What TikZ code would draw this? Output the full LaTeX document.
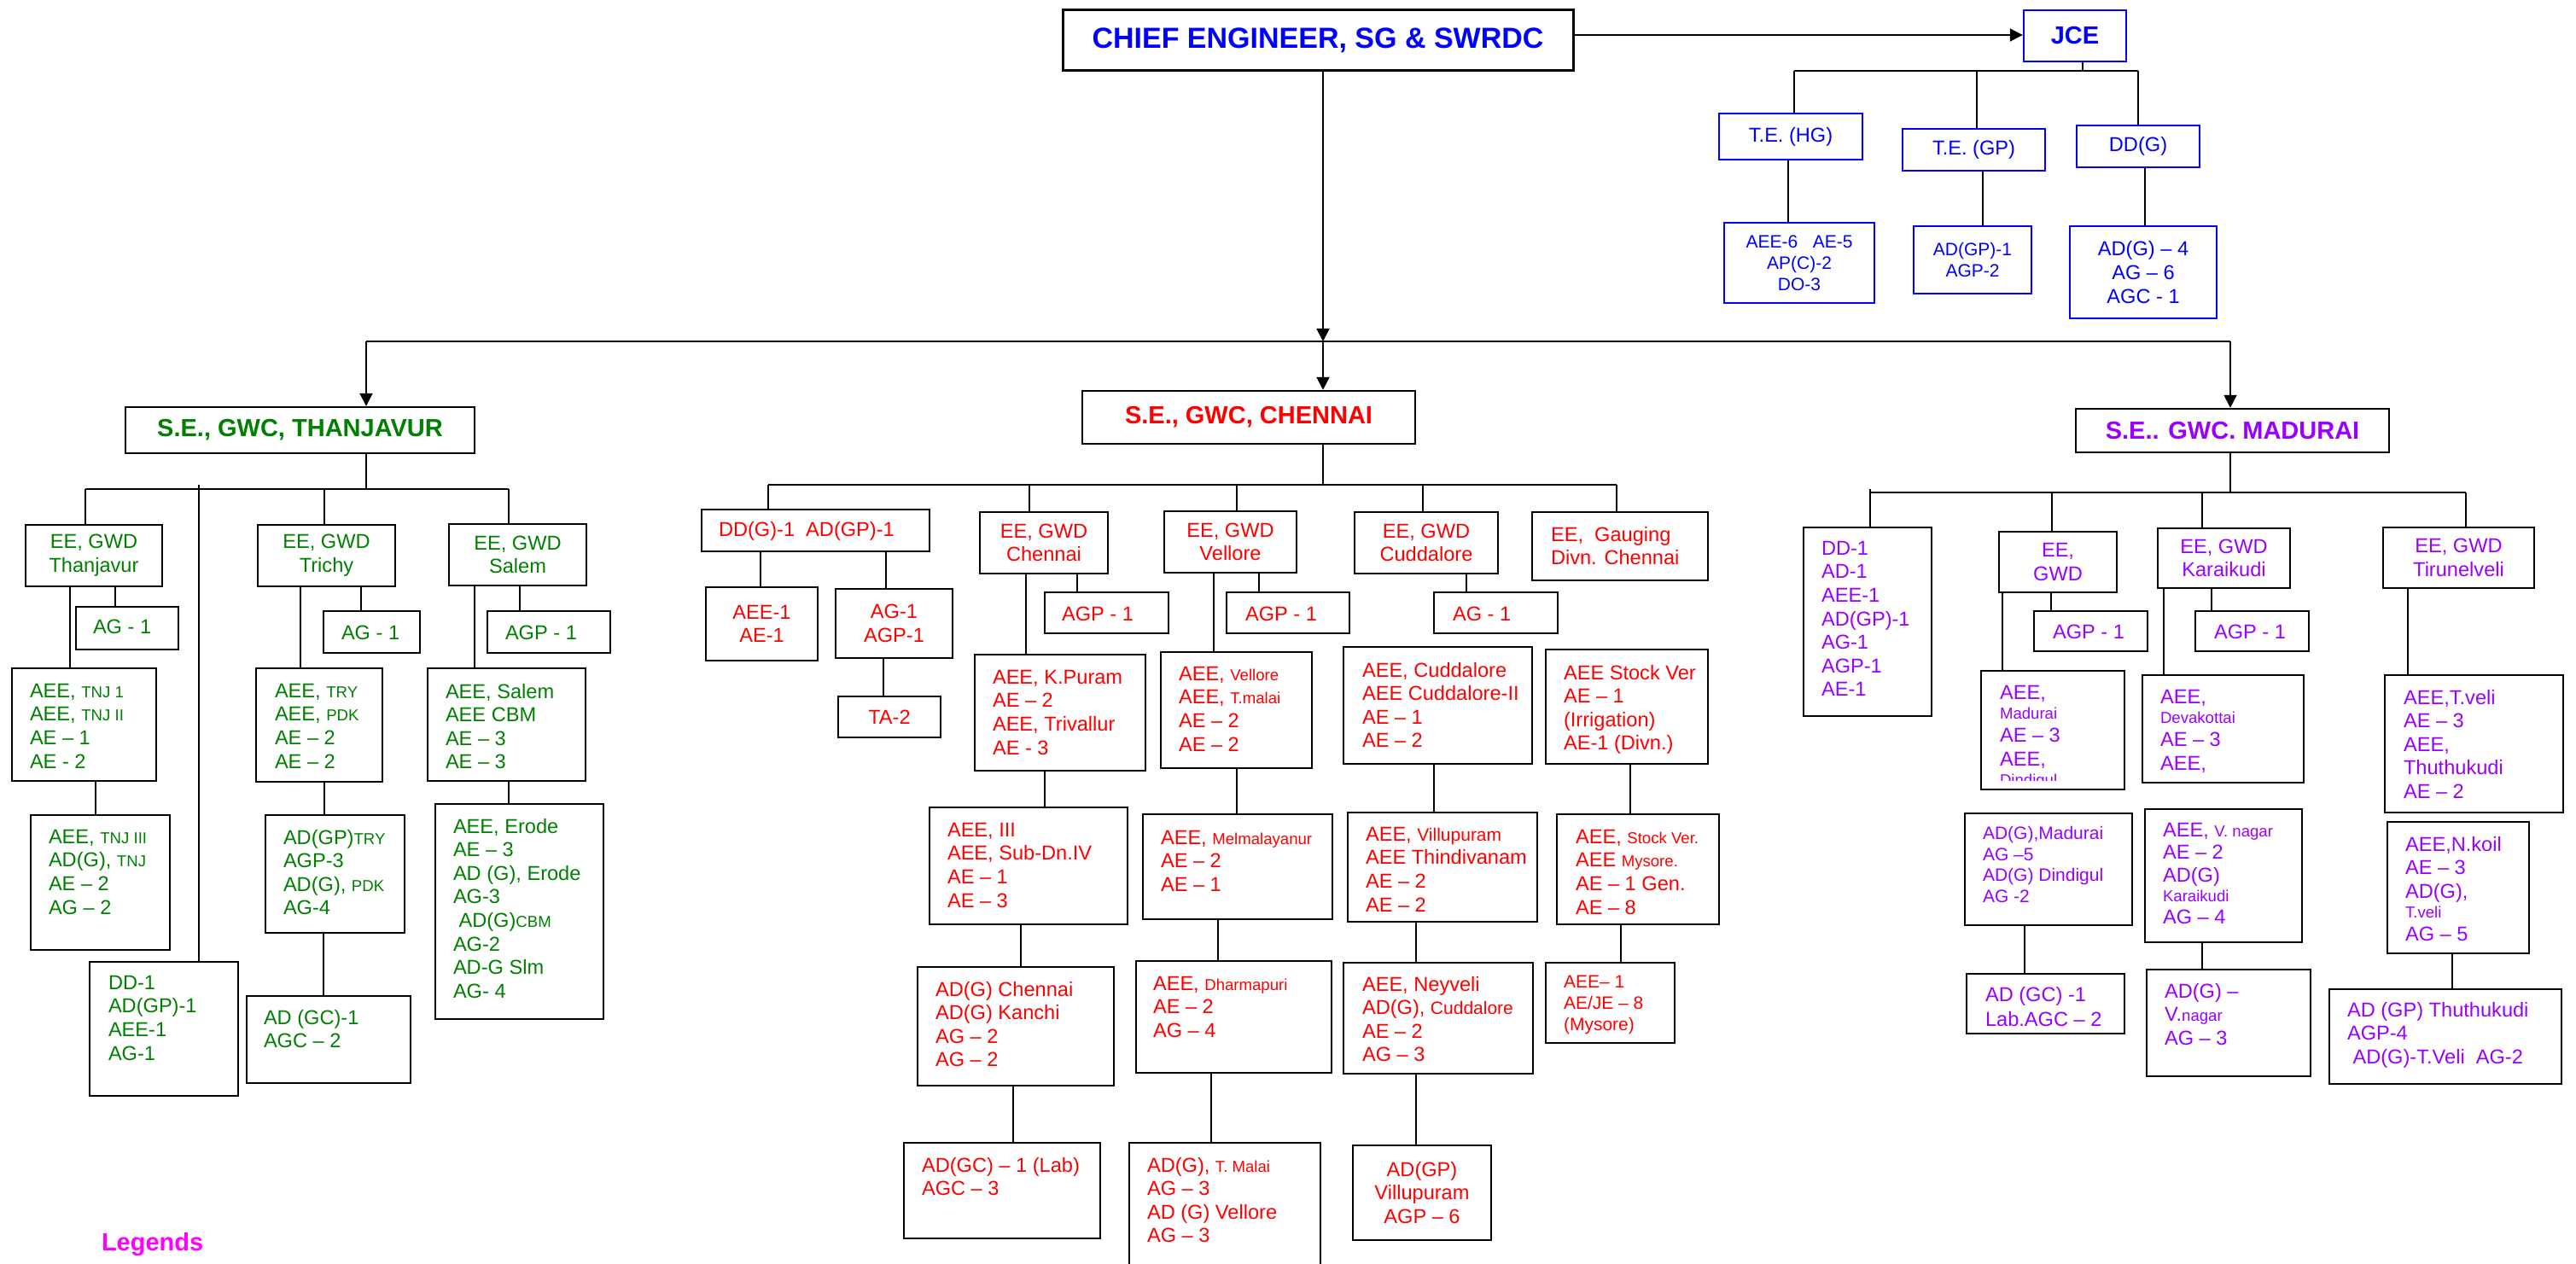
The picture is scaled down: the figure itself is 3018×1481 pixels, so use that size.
\documentclass[tikz,border=0pt]{standalone}
\usepackage{fontspec}
\setmainfont{Liberation Sans}
\usetikzlibrary{fit,arrows.meta}
\definecolor{cblue}{RGB}{0,0,255}
\definecolor{cgreen}{RGB}{0,128,0}
\definecolor{cred}{RGB}{255,0,0}
\definecolor{cpurp}{RGB}{153,0,255}
\definecolor{cmag}{RGB}{255,0,255}
\newcommand\nf{\fontsize{11.8}{13.8}\selectfont}
\newcommand\smf{\fontsize{9.3}{11}\selectfont}
\newcommand\mdf{\fontsize{10.5}{12.4}\selectfont}
\newcommand\hdf{\bfseries\fontsize{14.5}{17}\selectfont}
\tikzset{
 bx/.style={draw=black, line width=1.2pt, inner sep=0pt},
 bbx/.style={bx, draw=cblue},
 ln/.style={draw=black, line width=1pt},
 arr/.style={ln, -{Triangle[length=7.5pt,width=7.5pt]}},
 tx/.style={inner sep=0pt, outer sep=0pt, align=left, anchor=north west, font=\nf},
 ctx/.style={inner sep=0pt, outer sep=0pt, align=center, anchor=center, font=\nf},
 gtx/.style={tx, text=cgreen},
 rtx/.style={tx, text=cred},
 ptx/.style={tx, text=cpurp},
}
\begin{document}
\begin{tikzpicture}[x=0.5pt,y=-0.5pt]
\fill[white] (0,0) rectangle (3018,1481);
\useasboundingbox (0,0) rectangle (3018,1481);
\clip (0,0) rectangle (3018,1481);

% ---------------- top ----------------
\node[bx, line width=1.5pt, fit={(1245,12)(1843,83)}] (ce) {};
\node[ctx, text=cblue, font=\bfseries\fontsize{17}{20}\selectfont] (cet) at (ce.center) {CHIEF ENGINEER, SG \& SWRDC};
\node[bbx, fit={(2371,12)(2491,72)}] (jce) {};
\node[ctx, text=cblue, font=\hdf] (jcet) at (jce.center) {JCE};
\draw[arr] (ce.east |- 0,41) -- (jce.west |- 0,41);
\node[bbx, fit={(2014,133)(2182,187)}] (tehg) {};
\node[ctx, text=cblue] (tehgt) at (tehg.center) {T.E. (HG)};
\node[bbx, fit={(2229,151)(2396,200)}] (tegp) {};
\node[ctx, text=cblue] (tegpt) at (tegp.center) {T.E. (GP)};
\node[bbx, fit={(2433,147)(2577,196)}] (ddg) {};
\node[ctx, text=cblue] (ddgt) at (ddg.center) {DD(G)};
\node[bbx, fit={(2020,261)(2196,355)}] (aee6) {};
\node[ctx, text=cblue, font=\mdf] (aee6t) at (aee6.center) {AEE-6\ \ \ AE-5\\AP(C)-2\\DO-3};
\node[bbx, fit={(2242,265)(2380,344)}] (adgp1) {};
\node[ctx, text=cblue, font=\mdf] (adgp1t) at (adgp1.center) {AD(GP)-1\\AGP-2};
\node[bbx, fit={(2425,265)(2597,373)}] (adg4) {};
\node[ctx, text=cblue] (adg4t) at (adg4.center) {AD(G) – 4\\AG – 6\\AGC - 1};
\coordinate (jb) at (2440,83);
\draw[ln] (2440,0 |- jce.south) -- (jb);
\draw[ln] (2102,83) -- (2505,83);
\draw[ln] (2102,83) -- (2102,0 |- tehg.north);
\draw[ln] (2316,83) -- (2316,0 |- tegp.north);
\draw[ln] (2505,83) -- (2505,0 |- ddg.north);
\draw[ln] (2095,0 |- tehg.south) -- (2095,0 |- aee6.north);
\draw[ln] (2323,0 |- tegp.south) -- (2323,0 |- adgp1.north);
\draw[ln] (2513,0 |- ddg.south) -- (2513,0 |- adg4.north);

% ---------------- SE level ----------------
\node[bx, fit={(147,477)(556,531)}] (se1) {};
\node[ctx, text=cgreen, font=\hdf] (se1t) at (se1.center) {S.E., GWC, THANJAVUR};
\node[bx, fit={(1268,458)(1658,520)}] (se2) {};
\node[ctx, text=cred, font=\hdf] (se2t) at (se2.center) {S.E., GWC, CHENNAI};
\node[bx, fit={(2432,479)(2799,530)}] (se3) {};
\node[ctx, text=cpurp, font=\hdf] (se3t) at (se3.center) {S.E.. GWC. MADURAI};
\coordinate (b0) at (1550,400);
\draw[arr] (1550,0 |- ce.south) -- (b0);
\draw[ln] (429,400) -- (2613,400);
\draw[arr] (429,400) -- (429,0 |- se1.north);
\draw[arr] (b0) -- (1550,0 |- se2.north);
\draw[arr] (2613,400) -- (2613,0 |- se3.north);

% ---------------- Thanjavur ----------------
\node[bx, fit={(30,615)(190,687)}] (ee1) {};
\node[ctx, text=cgreen] (ee1t) at (ee1.center) {EE, GWD\\Thanjavur};
\node[bx, fit={(302,615)(463,687)}] (ee2) {};
\node[ctx, text=cgreen] (ee2t) at (ee2.center) {EE, GWD\\Trichy};
\node[bx, fit={(526,614)(687,686)}] (ee3) {};
\node[ctx, text=cgreen] (ee3t) at (ee3.center) {EE, GWD\\Salem};
\node[bx, fit={(89,711)(209,761)}] (ag1) {};
\node[gtx, anchor=west] (ag1t) at (109,734) {AG - 1};
\node[bx, fit={(379,716)(492,765)}] (ag2) {};
\node[gtx, anchor=west] (ag2t) at (400,741) {AG - 1};
\node[bx, fit={(571,716)(715,765)}] (agp3) {};
\node[gtx, anchor=west] (agp3t) at (592,741) {AGP - 1};
\node[bx, fit={(14,783)(183,915)}] (aee1) {};
\node[gtx] (aee1t) at (35,801) {AEE, {\smf TNJ 1}\\AEE, {\smf TNJ II}\\AE – 1\\AE - 2};
\node[bx, fit={(300,783)(448,916)}] (aee2) {};
\node[gtx] (aee2t) at (322,801) {AEE, {\smf TRY}\\AEE, {\smf PDK}\\AE – 2\\AE – 2};
\node[bx, fit={(501,783)(686,915)}] (aee3) {};
\node[gtx] (aee3t) at (522,801) {AEE, Salem\\AEE CBM\\AE – 3\\AE – 3};
\node[bx, fit={(36,955)(199,1113)}] (tnj3) {};
\node[gtx] (tnj3t) at (57,972) {AEE, {\smf TNJ III}\\AD(G), {\smf TNJ}\\AE – 2\\AG – 2};
\node[bx, fit={(311,955)(474,1093)}] (adgptry) {};
\node[gtx] (adgptryt) at (332,972) {AD(GP){\smf TRY}\\AGP-3\\AD(G), {\smf PDK}\\AG-4};
\node[bx, fit={(289,1167)(481,1269)}] (adgc1) {};
\node[gtx] (adgc1t) at (309,1183) {AD (GC)-1\\AGC – 2};
\node[bx, fit={(510,942)(707,1194)}] (erode) {};
\node[gtx] (erodet) at (531,959) {AEE, Erode\\AE – 3\\AD (G), Erode\\AG-3\\\ AD(G){\smf CBM}\\AG-2\\AD-G Slm\\AG- 4};
\node[bx, fit={(105,1127)(279,1284)}] (dd1) {};
\node[gtx] (dd1t) at (127,1143) {DD-1\\AD(GP)-1\\AEE-1\\AG-1};
\coordinate (tb) at (429,573);
\draw[ln] (429,0 |- se1.south) -- (tb);
\draw[ln] (100,573) -- (596,573);
\draw[ln] (233,568) -- (233,0 |- dd1.north);
\draw[ln] (100,573) -- (100,0 |- ee1.north);
\draw[ln] (380,573) -- (380,0 |- ee2.north);
\draw[ln] (596,573) -- (596,0 |- ee3.north);
\draw[ln] (135,0 |- ee1.south) -- (135,0 |- ag1.north);
\draw[ln] (423,0 |- ee2.south) -- (423,0 |- ag2.north);
\draw[ln] (609,0 |- ee3.south) -- (609,0 |- agp3.north);
\draw[ln] (82,0 |- ee1.south) -- (82,0 |- aee1.north);
\draw[ln] (352,0 |- ee2.south) -- (352,0 |- aee2.north);
\draw[ln] (556,0 |- ee3.south) -- (556,0 |- aee3.north);
\draw[ln] (112,0 |- aee1.south) -- (112,0 |- tnj3.north);
\draw[ln] (380,0 |- aee2.south) -- (380,0 |- adgptry.north);
\draw[ln] (379,0 |- adgptry.south) -- (379,0 |- adgc1.north);
\draw[ln] (596,0 |- aee3.south) -- (596,0 |- erode.north);
\node[tx, text=cmag, font=\hdf] (leg) at (119,1444) {Legends};

% ---------------- Chennai ----------------
\node[bx, fit={(822,597)(1089,646)}] (ddg1) {};
\node[rtx, anchor=west] (ddg1t) at (842,622) {DD(G)-1\ \ AD(GP)-1};
\node[bx, fit={(1148,600)(1298,672)}] (eec) {};
\node[ctx, text=cred] (eect) at (eec.center) {EE, GWD\\Chennai};
\node[bx, fit={(1364,599)(1519,671)}] (eev) {};
\node[ctx, text=cred] (eevt) at (eev.center) {EE, GWD\\Vellore};
\node[bx, fit={(1587,600)(1755,672)}] (eecu) {};
\node[ctx, text=cred] (eecut) at (eecu.center) {EE, GWD\\Cuddalore};
\node[bx, fit={(1795,600)(2001,680)}] (eeg) {};
\node[rtx] (eegt) at (1817,617) {EE,\ \ Gauging\\Divn. Chennai};
\node[bx, fit={(827,688)(958,774)}] (aee1c) {};
\node[ctx, text=cred] (aee1ct) at (aee1c.center) {AEE-1\\AE-1};
\node[bx, fit={(979,690)(1116,771)}] (agagp) {};
\node[ctx, text=cred] (agagpt) at (agagp.center) {AG-1\\AGP-1};
\node[bx, fit={(982,816)(1102,864)}] (ta2) {};
\node[ctx, text=cred] (ta2t) at (ta2.center) {TA-2};
\node[bx, fit={(1224,694)(1369,742)}] (agpc) {};
\node[rtx, anchor=west] (agpct) at (1244,719) {AGP - 1};
\node[bx, fit={(1142,767)(1342,903)}] (kpur) {};
\node[rtx] (kpurt) at (1163,785) {AEE, K.Puram\\AE – 2\\AEE, Trivallur\\AE - 3};
\node[bx, fit={(1089,946)(1321,1083)}] (aee3c) {};
\node[rtx] (aee3ct) at (1110,964) {AEE, III\\AEE, Sub-Dn.IV\\AE – 1\\AE – 3};
\node[bx, fit={(1075,1133)(1305,1272)}] (adgch) {};
\node[rtx] (adgcht) at (1096,1150) {AD(G) Chennai\\AD(G) Kanchi\\AG – 2\\AG – 2};
\node[bx, fit={(1059,1339)(1289,1451)}] (adgcl) {};
\node[rtx] (adgclt) at (1080,1356) {AD(GC) – 1 (Lab)\\AGC – 3};
\node[bx, fit={(1437,694)(1581,742)}] (agpv) {};
\node[rtx, anchor=west] (agpvt) at (1459,719) {AGP - 1};
\node[bx, fit={(1360,764)(1537,900)}] (aeev) {};
\node[rtx] (aeevt) at (1381,781) {AEE, {\smf Vellore}\\AEE, {\smf T.malai}\\AE – 2\\AE – 2};
\node[bx, fit={(1339,954)(1561,1077)}] (melm) {};
\node[rtx] (melmt) at (1360,973) {AEE, {\smf Melmalayanur}\\AE – 2\\AE – 1};
\node[bx, fit={(1331,1126)(1560,1257)}] (dhar) {};
\node[rtx] (dhart) at (1351,1144) {AEE, {\smf Dharmapuri}\\AE – 2\\AG – 4};
\node[bx, fit={(1323,1339)(1547,1500)}] (tmal) {};
\node[rtx] (tmalt) at (1344,1356) {AD(G), {\smf T. Malai}\\AG – 3\\AD (G) Vellore\\AG – 3};
\node[bx, fit={(1680,694)(1825,742)}] (agcu) {};
\node[rtx, anchor=west] (agcut) at (1702,719) {AG - 1};
\node[bx, fit={(1574,758)(1795,895)}] (aeecu) {};
\node[rtx] (aeecut) at (1596,776) {AEE, Cuddalore\\AEE Cuddalore-II\\AE – 1\\AE – 2};
\node[bx, fit={(1579,952)(1801,1080)}] (vill) {};
\node[rtx] (villt) at (1600,969) {AEE, {\mdf Villupuram}\\AEE Thindivanam\\AE – 2\\AE – 2};
\node[bx, fit={(1574,1128)(1796,1258)}] (ney) {};
\node[rtx] (neyt) at (1596,1144) {AEE, Neyveli\\AD(G), {\mdf Cuddalore}\\AE – 2\\AG – 3};
\node[bx, fit={(1585,1342)(1747,1453)}] (adgpv) {};
\node[ctx, text=cred] (adgpvt) at (adgpv.center) {AD(GP)\\Villupuram\\AGP – 6};
\node[bx, fit={(1811,761)(2001,895)}] (stk1) {};
\node[rtx] (stk1t) at (1832,779) {AEE Stock Ver\\AE – 1\\(Irrigation)\\AE-1 (Divn.)};
\node[bx, fit={(1824,954)(2014,1083)}] (stk2) {};
\node[rtx] (stk2t) at (1846,972) {AEE, {\smf Stock Ver.}\\AEE {\smf Mysore.}\\AE – 1 Gen.\\AE – 8};
\node[bx, fit={(1811,1128)(1962,1222)}] (myso) {};
\node[rtx, font=\mdf] (mysot) at (1832,1143) {AEE– 1\\AE/JE – 8\\(Mysore)};
\coordinate (cb) at (1550,568);
\draw[ln] (1550,0 |- se2.south) -- (cb);
\draw[ln] (900,568) -- (1894,568);
\draw[ln] (900,568) -- (900,0 |- ddg1.north);
\draw[ln] (1206,568) -- (1206,0 |- eec.north);
\draw[ln] (1449,568) -- (1449,0 |- eev.north);
\draw[ln] (1667,568) -- (1667,0 |- eecu.north);
\draw[ln] (1894,568) -- (1894,0 |- eeg.north);
\draw[ln] (891,0 |- ddg1.south) -- (891,0 |- aee1c.north);
\draw[ln] (1038,0 |- ddg1.south) -- (1038,0 |- agagp.north);
\draw[ln] (1035,0 |- agagp.south) -- (1035,0 |- ta2.north);
\draw[ln] (1262,0 |- eec.south) -- (1262,0 |- agpc.north);
\draw[ln] (1202,0 |- eec.south) -- (1202,0 |- kpur.north);
\draw[ln] (1224,0 |- kpur.south) -- (1224,0 |- aee3c.north);
\draw[ln] (1196,0 |- aee3c.south) -- (1196,0 |- adgch.north);
\draw[ln] (1187,0 |- adgch.south) -- (1187,0 |- adgcl.north);
\draw[ln] (1475,0 |- eev.south) -- (1475,0 |- agpv.north);
\draw[ln] (1422,0 |- eev.south) -- (1422,0 |- aeev.north);
\draw[ln] (1449,0 |- aeev.south) -- (1449,0 |- melm.north);
\draw[ln] (1427,0 |- melm.south) -- (1427,0 |- dhar.north);
\draw[ln] (1419,0 |- dhar.south) -- (1419,0 |- tmal.north);
\draw[ln] (1718,0 |- eecu.south) -- (1718,0 |- agcu.north);
\draw[ln] (1680,0 |- aeecu.south) -- (1680,0 |- vill.north);
\draw[ln] (1659,0 |- vill.south) -- (1659,0 |- ney.north);
\draw[ln] (1659,0 |- ney.south) -- (1659,0 |- adgpv.north);
\draw[ln] (1910,0 |- stk1.south) -- (1910,0 |- stk2.north);
\draw[ln] (1899,0 |- stk2.south) -- (1899,0 |- myso.north);

% ---------------- Madurai ----------------
\node[bx, fit={(2113,618)(2263,839)}] (dd1m) {};
\node[ptx] (dd1mt) at (2134,634) {DD-1\\AD-1\\AEE-1\\AD(GP)-1\\AG-1\\AGP-1\\AE-1};
\node[bx, fit={(2342,623)(2480,694)}] (eem) {};
\node[ctx, text=cpurp] (eemt) at (eem.center) {EE,\\GWD};
\node[bx, fit={(2528,619)(2683,689)}] (eek) {};
\node[ctx, text=cpurp] (eekt) at (eek.center) {EE, GWD\\Karaikudi};
\node[bx, fit={(2792,618)(2969,689)}] (eet) {};
\node[ctx, text=cpurp] (eett) at (eet.center) {EE, GWD\\Tirunelveli};
\node[bx, fit={(2383,716)(2516,763)}] (agpm) {};
\node[ptx, anchor=west] (agpmt) at (2405,740) {AGP - 1};
\node[bx, fit={(2572,716)(2705,763)}] (agpk) {};
\node[ptx, anchor=west] (agpkt) at (2594,740) {AGP - 1};
\node[bx, fit={(2321,786)(2489,925)}] (aeem) {};
\begin{scope}
\clip (2321,786) rectangle (2489,914);
\node[ptx] (aeemt) at (2343,803) {AEE,\\[-2.3pt]{\smf Madurai}\\AE – 3\\AEE,\\[-2.3pt]{\smf Dindigul}};
\end{scope}
\node[bx, fit={(2510,791)(2699,917)}] (aeed) {};
\node[ptx] (aeedt) at (2531,808) {AEE,\\[-2.3pt]{\smf Devakottai}\\AE – 3\\AEE,};
\node[bx, fit={(2302,953)(2498,1084)}] (adgm) {};
\node[ptx, font=\mdf] (adgmt) at (2323,968) {AD(G),Madurai\\AG –5\\AD(G) Dindigul\\AG -2};
\node[bx, fit={(2304,1141)(2489,1211)}] (adgcm) {};
\node[ptx] (adgcmt) at (2326,1156) {AD (GC) -1\\[0.7pt]Lab.AGC – 2};
\node[bx, fit={(2513,948)(2697,1104)}] (aeevn) {};
\node[ptx] (aeevnt) at (2534,964) {AEE, {\smf V. nagar}\\[-0.8pt]AE – 2\\AD(G)\\[-2.3pt]{\smf Karaikudi}\\[-0.8pt]AG – 4};
\node[bx, fit={(2515,1136)(2707,1261)}] (adgvn) {};
\node[ptx] (adgvnt) at (2536,1152) {AD(G) –\\V.{\smf nagar}\\AG – 3};
\node[bx, fit={(2794,791)(3003,952)}] (aeetv) {};
\node[ptx] (aeetvt) at (2816,808) {AEE,T.veli\\AE – 3\\AEE,\\Thuthukudi\\AE – 2};
\node[bx, fit={(2797,963)(2963,1117)}] (aeenk) {};
\node[ptx] (aeenkt) at (2818,980) {AEE,N.koil\\AE – 3\\AD(G),\\[-2.3pt]{\smf T.veli}\\AG – 5};
\node[bx, fit={(2729,1159)(3001,1270)}] (adgpt) {};
\node[ptx] (adgptt) at (2750,1174) {AD (GP) Thuthukudi\\AGP-4\\\ AD(G)-T.Veli\ \ AG-2};
\coordinate (mb) at (2613,577);
\draw[ln] (2613,0 |- se3.south) -- (mb);
\draw[ln] (2191,577) -- (2889,577);
\draw[ln] (2191,573) -- (2191,0 |- dd1m.north);
\draw[ln] (2404,577) -- (2404,0 |- eem.north);
\draw[ln] (2580,577) -- (2580,0 |- eek.north);
\draw[ln] (2889,577) -- (2889,0 |- eet.north);
\draw[ln] (2403,0 |- eem.south) -- (2403,0 |- agpm.north);
\draw[ln] (2591,0 |- eek.south) -- (2591,0 |- agpk.north);
\draw[ln] (2346,0 |- eem.south) -- (2346,0 |- aeem.north);
\draw[ln] (2535,0 |- eek.south) -- (2535,0 |- aeed.north);
\draw[ln] (2372,0 |- adgm.south) -- (2372,0 |- adgcm.north);
\draw[ln] (2580,0 |- aeevn.south) -- (2580,0 |- adgvn.north);
\draw[ln] (2821,0 |- eet.south) -- (2821,0 |- aeetv.north);
\draw[ln] (2873,0 |- aeenk.south) -- (2873,0 |- adgpt.north);
\end{tikzpicture}
\end{document}
